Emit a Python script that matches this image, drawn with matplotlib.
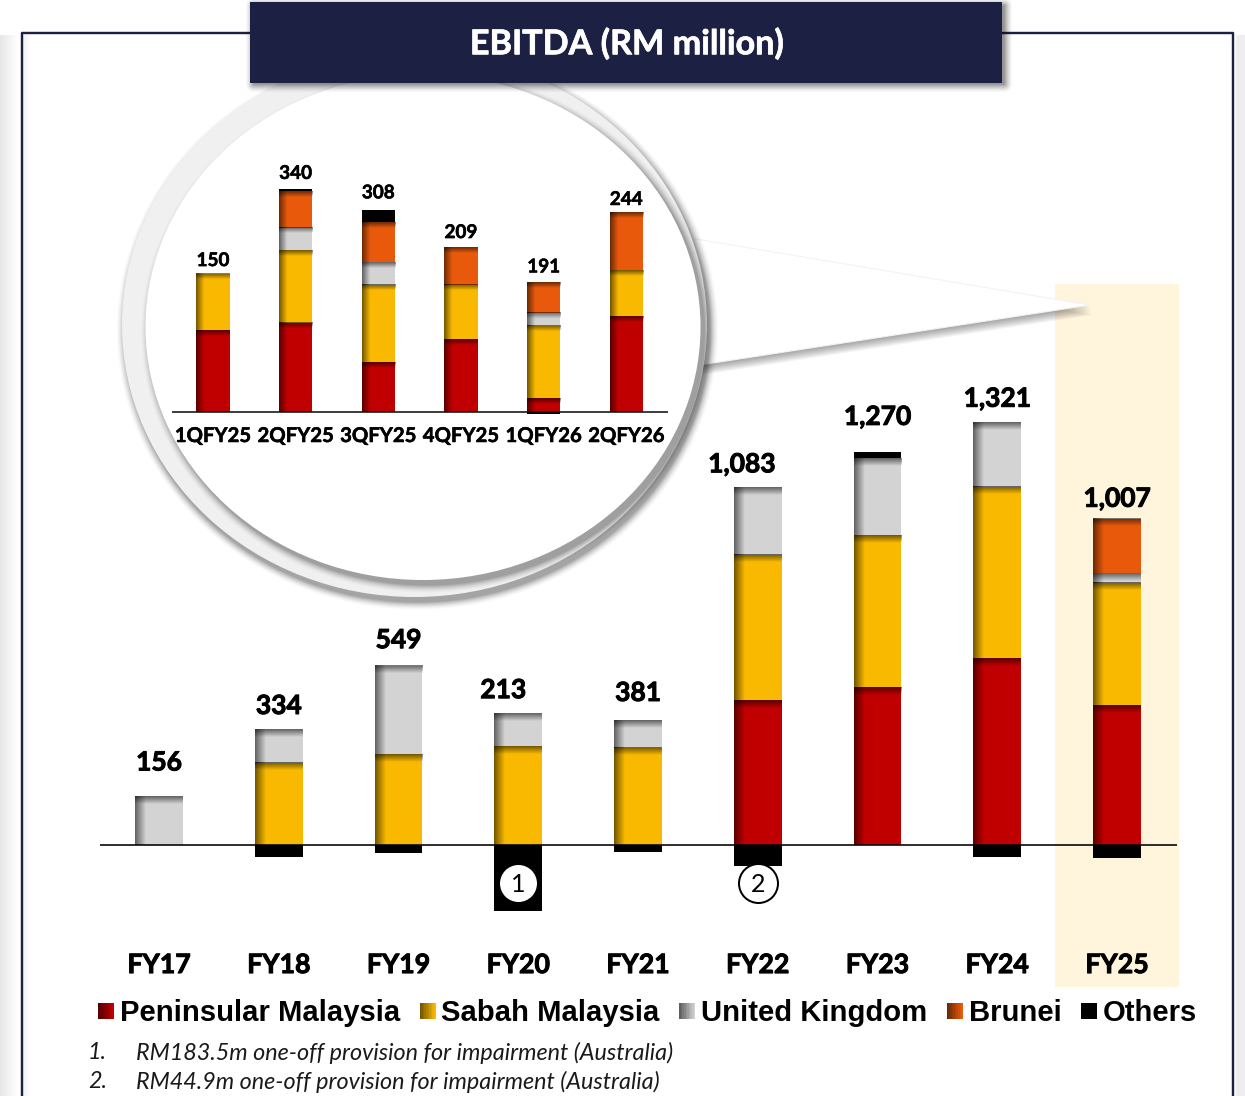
import numpy as np
import matplotlib
matplotlib.use("Agg")
import matplotlib.pyplot as plt
import matplotlib.patheffects as pe
from matplotlib.patches import Ellipse, Polygon, Rectangle
from matplotlib.legend_handler import HandlerBase
from matplotlib.colors import to_rgb

# ---------- data ----------
years = ["FY17", "FY18", "FY19", "FY20", "FY21", "FY22", "FY23", "FY24", "FY25"]
y_labels = ["156", "334", "549", "213", "381", "1,083", "1,270", "1,321", "1,007"]
y_pen = [0, 0, 0, 0, 0, 466, 508, 600, 449]
y_sabah = [0, 264, 292, 318, 312, 468, 488, 552, 393]
y_uk = [156, 109, 283, 106, 90, 216, 247, 209, 31]
y_brunei = [0, 0, 0, 0, 0, 0, 0, 0, 176]
y_others = [0, -39, -26, -211, -21, -68, 21, -40, -42]

quarters = ["1QFY25", "2QFY25", "3QFY25", "4QFY25", "1QFY26", "2QFY26"]
q_labels = ["150", "340", "308", "209", "191", "244"]
q_pen = [124, 136, 76, 111, 21, 146]
q_sabah = [86, 110, 118, 83, 110, 70]
q_uk = [0, 35, 35, 0, 20, 0]
q_brunei = [0, 56, 61, 58, 47, 88]
q_others = [0, 3, 18, 0, -3, 0]

series_names = ["Peninsular Malaysia", "Sabah Malaysia", "United Kingdom", "Brunei", "Others"]
title = "EBITDA (RM million)"
notes = ["RM183.5m one-off provision for impairment (Australia)",
         "RM44.9m one-off provision for impairment (Australia)"]

# ---------- style ----------
COLORS = ["#C00000", "#F9B900", "#D3D3D3", "#E8590C", "#000000"]
NAVY = "#1C2143"
W, H = 1245, 1096
LATO = ["Lato", "DejaVu Sans"]
px = 72 / 100  # points per pixel
HEAVY = [pe.withStroke(linewidth=.7, foreground="black")]
HEAVY_S = [pe.withStroke(linewidth=.4, foreground="black")]
HEAVY_W = [pe.withStroke(linewidth=.5, foreground="white")]

fig = plt.figure(figsize=(W / 100, H / 100), dpi=100, facecolor="white")


def axes_px(x0, y0, x1, y1, z):
    a = fig.add_axes([x0 / W, 1 - y1 / H, (x1 - x0) / W, (y1 - y0) / H], zorder=z)
    a.patch.set_alpha(0)
    return a


# ---------- decoration layer in pixel coordinates ----------
bg = axes_px(0, 0, W, H, 1)
bg.set_axis_off()
XX, YY = np.meshgrid(np.arange(W) + .5, np.arange(H) + .5)


def overlay(alpha, z, rgb=(0, 0, 0)):
    img = np.zeros((H, W, 4))
    img[..., :3] = rgb
    img[..., 3] = alpha
    bg.imshow(img, extent=(0, W, H, 0), aspect="auto", zorder=z, interpolation="bilinear")


def ellipse_shadow(cx, cy, rx, ry, ox, oy, w, a, z):
    r = (rx + ry) / 2
    d = (np.hypot((XX - cx - ox) / rx, (YY - cy - oy) / ry) - 1) * r
    overlay(a * np.clip(1 - np.maximum(d, 0) / w, 0, 1) ** 1.7, z)


def box_shadow(x0, y0, x1, y1, w, a, z):
    dx = np.maximum(np.maximum(x0 - XX, XX - x1), 0)
    dy = np.maximum(np.maximum(y0 - YY, YY - y1), 0)
    overlay(a * np.clip(1 - np.hypot(dx, dy) / w, 0, 1) ** 1.5, z)


# page edge shading outside the frame
edge = np.zeros((H, W))
edge += 0.10 * np.clip(1 - XX / 18, 0, 1) * (YY > 35)
edge += 0.07 * (XX > 1236) * (YY > 35)
edge += 0.05 * np.clip(1 - np.abs(XX - 24) / 8, 0, 1) * (XX > 23) * (YY > 35)
overlay(edge, 0.5)

# highlight band
bg.add_patch(Rectangle((1055, 284), 124, 703, fc="#FFF4DC", ec="none", zorder=1))
# frame
bg.plot([22, 22, 1233, 1233], [H + 5, 33, 33, H + 5], color=NAVY, lw=2.4 * px, zorder=2,
        solid_joinstyle="round")

# callout wedge with soft shadow
wedge = np.array([[690, 238], [1090, 305], [700, 365]])
for k in range(1, 11):
    bg.add_patch(Polygon(wedge + [k * .2, k * 1.0], fc="black", ec="none", alpha=.04, zorder=3))
bg.add_patch(Polygon(wedge, fc="white", ec="#F3F3F3", lw=.8, zorder=3.5))

# magnifier circle (slightly flattened in the source)
ellipse_shadow(414.5, 325, 292.5, 272, 3, 5, 9, .36, 4)
bg.add_patch(Ellipse((414.5, 325), 585, 544, fc="#F0F0F0", ec="none", zorder=5))
ellipse_shadow(423, 327, 277.5, 253, 4, 5, 9, .34, 6)
bg.add_patch(Ellipse((423, 327), 555, 506, fc="white", ec="none", zorder=7))

# header
box_shadow(254, 6, 1004, 84, 9, .42, 9)
bg.add_patch(Rectangle((250, 2), 752, 81, fc=NAVY, ec="none", zorder=10))
bg.text(626.5, 44, title, color="white", ha="center", va="center", fontsize=24.6,
        fontweight="bold", family=LATO, zorder=11, path_effects=HEAVY_W)

# footnotes
for i, (note, yy) in enumerate(zip(notes, [1052.5, 1081.5])):
    bg.text(88, yy, f"{i + 1}.", fontsize=16.8, style="italic", family=LATO, color="#1a1a1a",
            ha="left", va="center", zorder=11)
    bg.text(136, yy, note, fontsize=16.8, style="italic", family=LATO, color="#1a1a1a",
            ha="left", va="center", zorder=11)
bg.set_xlim(0, W)
bg.set_ylim(H, 0)


# ---------- stacked bars with inner shading ----------
def shade(ax, bar, gx_px, gy_px, sx, sy):
    """Dark inner shadow along the left and top edges of one bar."""
    w_px = max(int(round(bar.get_width() * sx)), 2)
    h_px = max(int(round(abs(bar.get_height()) * sy)), 2)
    xs = (np.arange(w_px) + .5)
    ys = (np.arange(h_px) + .5)
    ax_a = .55 * np.clip(1 - xs / gx_px, 0, 1)
    ay_a = .55 * np.clip(1 - ys / gy_px, 0, 1)
    a = 1 - np.outer(1 - ay_a, 1 - ax_a)
    img = np.zeros((h_px, w_px, 4))
    img[..., 3] = a
    x0, y0 = bar.get_x(), bar.get_y()
    x1, y1 = x0 + bar.get_width(), y0 + bar.get_height()
    ax.imshow(img, extent=(x0, x1, y0, y1), aspect="auto", origin="upper", zorder=3,
              interpolation="bilinear")


def stacks(ax, stack_lists, width, gx, gy, sx, sy):
    n = len(stack_lists[0])
    pos = np.zeros(n)
    xs = np.arange(n)
    for vals, col in zip(stack_lists, COLORS):
        vals = np.array(vals, float)
        plus = np.maximum(vals, 0)
        neg = np.minimum(vals, 0)
        bars = ax.bar(xs, plus, width, bottom=pos, color=col, zorder=2, linewidth=0)
        if col != "#000000":
            for b, v in zip(bars, plus):
                if v > 0:
                    shade(ax, b, gx, gy, sx, sy)
        pos = pos + plus
        if neg.any():
            ax.bar(xs, neg, width, color=col, zorder=2, linewidth=0)
    return pos


# main chart
M_SCALE = .311  # pixels per RM million
M_X0, M_DX = 159, 119.75
m_top, m_bot = 285, 945
ax = axes_px(100, m_top, 1177, m_bot, 2)
ax.set_facecolor("none")
m_tops = stacks(ax, [y_pen, y_sabah, y_uk, y_brunei, y_others], .4, 11, 8, M_DX, M_SCALE)
ax.set_xlim((100 - M_X0) / M_DX, (1177 - M_X0) / M_DX)
ax.set_ylim((845 - m_bot) / M_SCALE, (845 - m_top) / M_SCALE)
ax.axhline(0, color="black", lw=1.6 * px, zorder=4)
for s in ax.spines.values():
    s.set_visible(False)
ax.set_yticks([])
ax.set_xticks(range(len(years)))
ax.set_xticklabels(years, fontsize=19.2, fontweight="bold", family=LATO)
for t in ax.get_xticklabels():
    t.set_path_effects(HEAVY)
ax.tick_params(axis="x", length=0, pad=5.8)

m_label_dx = [0, 0, 0, -15, 0, -16, 0, 0, 0]
m_label_dy = [34, 23, 26, 23, 27, 23, 35, 23, 20]
for i, lab in enumerate(y_labels):
    ax.annotate(lab, (i, m_tops[i]), xytext=(m_label_dx[i] * px, m_label_dy[i] * px),
                textcoords="offset points", ha="center", va="center", fontsize=19,
                fontweight="bold", family=LATO, zorder=5, path_effects=HEAVY)

# numbered markers on the FY20 and FY22 bars
for idx, num in [(3, "1"), (5, "2")]:
    yv = (845 - 883) / M_SCALE
    ax.scatter([idx], [yv], s=(39 * px) ** 2, fc="white", ec="black", lw=2 * px, zorder=6)
    ax.text(idx, yv, num, ha="center", va="center_baseline", fontsize=18, family=LATO, zorder=7)

# inset chart
Q_SCALE = .655
Q_X0, Q_DX = 213, 82.66
q_top, q_bot = 130, 470
ins = axes_px(172, q_top, 668, q_bot, 3)
ins.set_facecolor("none")
q_tops = stacks(ins, [q_pen, q_sabah, q_uk, q_brunei, q_others], .4, 8, 6, Q_DX, Q_SCALE)
ins.set_xlim((172 - Q_X0) / Q_DX, (668 - Q_X0) / Q_DX)
ins.set_ylim((411.6 - q_bot) / Q_SCALE, (411.6 - q_top) / Q_SCALE)
ins.axhline(0, color="#111111", lw=1.6 * px, zorder=4)
for s in ins.spines.values():
    s.set_visible(False)
ins.set_yticks([])
ins.set_xticks([])
q_label_dy = [13.5, 15.5, 17, 14, 15, 13]
for i, lab in enumerate(q_labels):
    ins.annotate(lab, (i, q_tops[i]), xytext=(0, q_label_dy[i] * px), textcoords="offset points",
                 ha="center", va="center", fontsize=13.6, fontweight="bold", family=LATO, zorder=5,
                 path_effects=HEAVY_S)
    ins.text(i, (411.6 - 436) / Q_SCALE, quarters[i], ha="center", va="center", fontsize=14.6,
             fontweight="bold", family=LATO, zorder=5, path_effects=HEAVY_S)


# ---------- legend with gradient swatches ----------
class GradientHandle:
    def __init__(self, color):
        self.color = color


class GradientHandler(HandlerBase):
    def create_artists(self, legend, h, xd, yd, width, height, fontsize, trans):
        rgb = np.array(to_rgb(h.color))
        steps = 10
        sw = 16 * px
        sh = 16 * px
        y0 = -yd + (height - sh) / 2
        out = []
        for k in range(steps):
            f = .45 + .55 * k / (steps - 1)
            out.append(Rectangle((-xd + sw * k / steps, y0), sw / steps + .1, sh,
                                 fc=tuple(rgb * f), ec="none", transform=trans))
        return out


handles = [GradientHandle(c) for c in COLORS]
leg = fig.legend(handles, series_names, handler_map={GradientHandle: GradientHandler()},
                 ncol=5, loc="center", bbox_to_anchor=(647.5 / W, 1 - 1013 / H), frameon=False,
                 prop={"family": "Liberation Sans", "weight": "bold", "size": 21.1},
                 handlelength=.55, handleheight=.7, handletextpad=.2, columnspacing=.66,
                 borderpad=0, borderaxespad=0)
leg.set_zorder(12)

fig.savefig("out.png", dpi=100)
